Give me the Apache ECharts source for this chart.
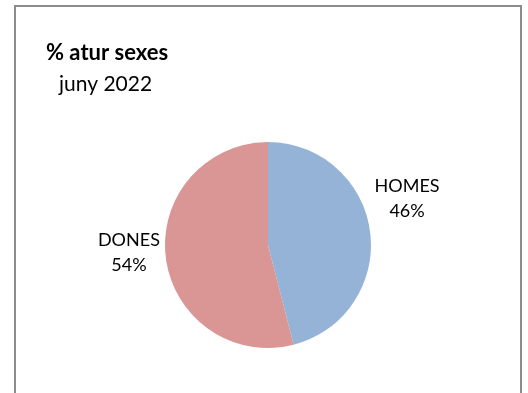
<!DOCTYPE html>
<html>
<head>
<meta charset="utf-8">
<script src="https://cdn.jsdelivr.net/npm/echarts@6/dist/echarts.min.js"></script>
<style>
  html, body { margin: 0; padding: 0; background: #fff; }
  #frame {
    position: absolute; left: 14px; top: 5px;
    width: 508px; height: 400px;
    border: 2px solid #8c8c8c; box-sizing: border-box;
  }
  #chart { width: 528px; height: 393px; position: absolute; left: 0; top: 0; }
</style>
</head>
<body>
<div id="frame"></div>
<div id="chart"></div>
<script>
// dades del gràfic
const categories = ['HOMES', 'DONES'];
const values = [46, 54];
const colors = ['#95B3D7', '#D99694'];
const titleText = '% atur sexes';
const subtitleText = 'juny 2022';

const font = 'Lato, "Open Sans", sans-serif';

// desplaçament de les etiquetes respecte a la posició per defecte
const labelShift = [[-13, -32], [13, -7]];

const chart = echarts.init(document.getElementById('chart'), null, { renderer: 'canvas' });

const option = {
  backgroundColor: 'transparent',
  animation: false,
  title: [
    {
      text: titleText,
      left: 41, top: 37,
      textStyle: { fontFamily: font, fontSize: 22, fontWeight: 'bold', color: '#000' }
    },
    {
      text: subtitleText,
      left: 54, top: 69,
      textStyle: { fontFamily: font, fontSize: 21, fontWeight: 'normal', color: '#000' }
    }
  ],
  series: [
    {
      type: 'pie',
      center: [268, 245],
      radius: [0, 103],
      startAngle: 90,
      clockwise: true,
      itemStyle: { borderWidth: 0 },
      labelLine: { show: false },
      label: {
        show: true,
        position: 'outside',
        formatter: p => p.name + '\n' + p.value + '%',
        fontFamily: font,
        fontSize: 18,
        lineHeight: 25,
        color: '#000'
      },
      labelLayout: p => ({
        align: 'center',
        verticalAlign: 'middle',
        dx: labelShift[p.dataIndex][0],
        dy: labelShift[p.dataIndex][1]
      }),
      data: categories.map((c, i) => ({
        name: c,
        value: values[i],
        itemStyle: { color: colors[i] }
      }))
    }
  ]
};

chart.setOption(option);
</script>
</body>
</html>
